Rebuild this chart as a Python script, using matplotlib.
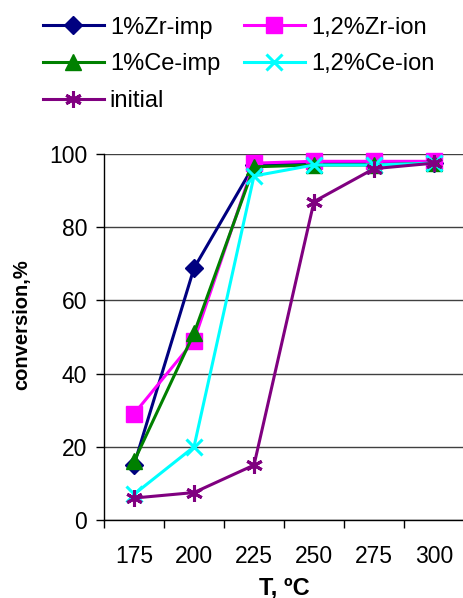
import matplotlib
matplotlib.use("Agg")
import matplotlib.pyplot as plt

plt.rcParams['font.family'] = ['Liberation Sans', 'DejaVu Sans']

temps = ["175", "200", "225", "250", "275", "300"]
zr_imp = [15, 68.8, 97, 97.5, 97.5, 97.5]
zr_ion = [29, 49, 97.5, 98, 98, 98]
ce_imp = [16, 51, 96.5, 97, 97, 97.5]
ce_ion = [7, 20, 94, 97, 97, 97.5]
initial = [6, 7.5, 15, 87, 96, 97.5]

fig = plt.figure(figsize=(4.64, 5.98), dpi=100)
ax = fig.add_axes([104/464, 78/598, 360/464, 366/598])
x = list(range(len(temps)))

h1, = ax.plot(x, zr_imp, color='#000080', lw=2.2, marker='D', ms=9, label='1%Zr-imp', clip_on=False)
h2, = ax.plot(x, zr_ion, color='#FF00FF', lw=2.2, marker='s', ms=11, label='1,2%Zr-ion', clip_on=False)
h3, = ax.plot(x, ce_imp, color='#008000', lw=2.2, marker='^', ms=11, label='1%Ce-imp', clip_on=False)
h4, = ax.plot(x, ce_ion, color='#00FFFF', lw=2.2, marker='x', ms=11, mew=2.2, label='1,2%Ce-ion', clip_on=False)
h5, = ax.plot(x, initial, color='#800080', lw=2.2, marker=(6, 2, 0), ms=12, mew=2.2, label='initial', clip_on=False)

ax.set_xlim(-0.5, 5.5)
ax.set_ylim(0, 100)
ax.set_yticks(range(0, 101, 20))
ax.set_xticks(x)
ax.set_xticklabels(temps)
ax.set_xticks([i - 0.5 for i in range(7)], minor=True)
ax.tick_params(axis='x', which='major', length=0, labelsize=16.5, pad=18)
ax.tick_params(axis='x', which='minor', length=6, width=1)
ax.tick_params(axis='y', labelsize=16.5, length=6, width=1, pad=6)
ax.yaxis.grid(True, color='#404040', lw=1)
ax.set_axisbelow(True)
for s in ['top', 'right']:
    ax.spines[s].set_visible(False)
ax.spines['left'].set_linewidth(1)
ax.spines['bottom'].set_linewidth(1)
ax.set_ylabel('conversion,%', fontsize=14.5, fontweight='bold', labelpad=10)
ax.yaxis.set_label_coords(-0.203, 0.533)
ax.set_xlabel('T, ºC', fontsize=17, fontweight='bold', labelpad=6)

fig.legend(handles=[h1, h3, h5, h2, h4], ncol=2, frameon=False, fontsize=17,
           loc='upper left', bbox_to_anchor=(26/464, 1.0), handlelength=2.6,
           handletextpad=0.25, columnspacing=1.0, labelspacing=0.62,
           borderpad=0.2)

fig.savefig('out.png', dpi=100)
